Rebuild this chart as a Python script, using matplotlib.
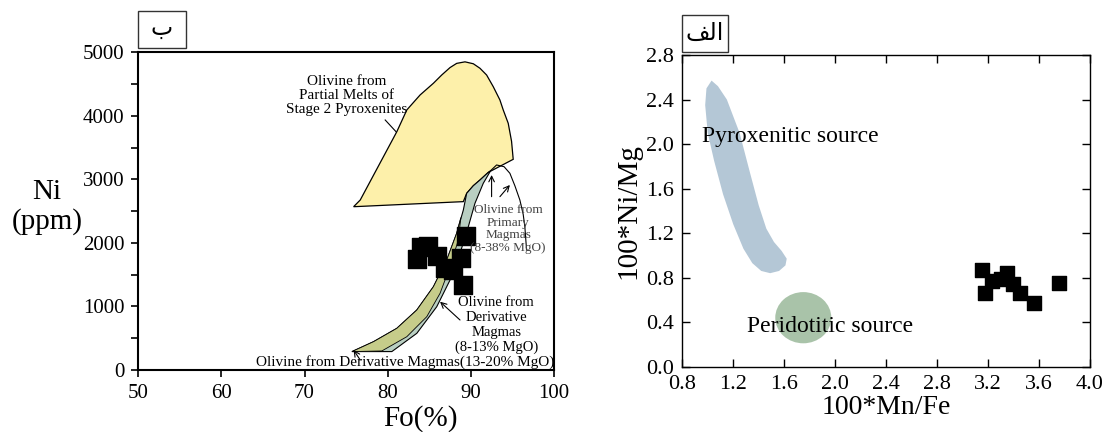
import matplotlib
matplotlib.use("Agg")
import matplotlib.pyplot as plt
from matplotlib.patches import Polygon, Ellipse, Rectangle

plt.rcParams['font.family'] = ['Liberation Serif', 'DejaVu Sans']

# --- left panel (Fo vs Ni) ---
fo = [83.5, 84.0, 84.8, 85.9, 86.9, 87.9, 88.8, 89.1, 89.4]
ni = [1750, 1930, 1950, 1790, 1600, 1580, 1760, 1340, 2110]

# field outlines (Fo, Ni ppm)
pyrox_melt_field = [(75.9, 2570), (89.1, 2650), (89.5, 2780), (90.3, 2900), (91.1, 2990),
                    (92.1, 3110), (95.1, 3316), (94.9, 3600), (94.5, 3883), (93.9, 4093),
                    (93.5, 4250), (92.7, 4459), (91.9, 4643), (91.1, 4749), (90.3, 4820),
                    (89.3, 4850), (88.3, 4826), (87.5, 4760), (86.5, 4643), (85.5, 4513),
                    (83.9, 4329), (82.3, 4093), (81.1, 3751), (76.7, 2676)]
band_left = [(75.7, 290), (78.3, 446), (81.1, 656), (83.5, 944), (85.5, 1311), (87.1, 1731),
             (88.3, 2152), (89.1, 2518), (89.5, 2780), (90.3, 2900), (91.1, 2990),
             (92.1, 3110), (92.4, 3140)]
band_right = [(92.4, 3140), (91.5, 2939), (90.5, 2624), (89.7, 2256), (88.7, 1836),
              (87.5, 1416), (85.9, 996), (83.5, 577), (80.5, 290)]
olive_inner = [(88.8, 2400), (88.5, 2046), (87.5, 1626), (86.3, 1207), (84.7, 839),
               (82.3, 524), (79.3, 300)]
primary_arch = [(92.4, 3140), (93.1, 3227), (94.0, 3200), (94.7, 3096), (95.3, 2900),
                (95.9, 2676), (96.3, 2450), (96.5, 2256), (96.7, 1900)]

# --- right panel (Mn/Fe vs Ni/Mg) ---
mnfe = [3.15, 3.18, 3.23, 3.30, 3.35, 3.40, 3.45, 3.56, 3.76]
nimg = [0.87, 0.66, 0.77, 0.79, 0.84, 0.74, 0.66, 0.57, 0.75]

pyroxenitic_field = [(1.03, 2.57), (1.08, 2.52), (1.15, 2.40), (1.25, 2.10), (1.33, 1.75),
                     (1.40, 1.45), (1.46, 1.24), (1.52, 1.12), (1.58, 1.04), (1.62, 0.97),
                     (1.61, 0.91), (1.56, 0.86), (1.49, 0.84), (1.42, 0.86), (1.35, 0.93),
                     (1.28, 1.06), (1.20, 1.28), (1.12, 1.55), (1.05, 1.85), (1.00, 2.10),
                     (0.98, 2.35), (0.99, 2.50)]
peridotitic_center = (1.75, 0.44)
peridotitic_size = (0.44, 0.46)

fig = plt.figure(figsize=(11.09, 4.32), dpi=100)

# ---------------- left panel ----------------
ax1 = fig.add_axes([0.1247, 0.1435, 0.3748, 0.7354])
ax1.set_xlim(50, 100)
ax1.set_ylim(0, 5000)

ax1.add_patch(Polygon(pyrox_melt_field, closed=True, fc='#fdf0aa', ec='black', lw=0.9, zorder=2))
ax1.add_patch(Polygon(band_left + band_right, closed=True, fc='#b9cfc2', ec='black', lw=0.8, zorder=2))
ax1.add_patch(Polygon(band_left[:7] + olive_inner, closed=True, fc='#c6cc8a', ec='black', lw=0.6, zorder=2))
ax1.plot([p[0] for p in primary_arch], [p[1] for p in primary_arch], color='black', lw=0.8, zorder=2)

ax1.scatter(fo, ni, marker='s', s=150, c='black', zorder=4)

arrow = dict(arrowstyle='->', lw=0.8, color='black', shrinkA=0, shrinkB=0)
ax1.annotate('', xy=(92.5, 3069), xytext=(92.5, 2728), arrowprops=arrow, zorder=3)
ax1.annotate('', xy=(94.7, 2912), xytext=(93.5, 2728), arrowprops=arrow, zorder=3)
ax1.annotate('', xy=(86.3, 1075), xytext=(88.7, 787), arrowprops=arrow, zorder=3)
ax1.annotate('', xy=(75.9, 315), xytext=(76.7, 157), arrowprops=arrow, zorder=3)
ax1.plot([81.0, 79.7], [3751, 3935], color='black', lw=0.8, zorder=3)

ax1.text(75.1, 4313, "Olivine from\nPartial Melts of\nStage 2 Pyroxenites", fontsize=11,
         ha='center', va='center', linespacing=1.1, zorder=5)
ax1.text(94.5, 2219, "Olivine from\nPrimary\nMagmas\n(8-38% MgO)", fontsize=9.5, color='#444444',
         ha='center', va='center', linespacing=1.1, zorder=5)
ax1.text(93.05, 708, "Olivine from\nDerivative\nMagmas\n(8-13% MgO)", fontsize=10.5,
         ha='center', va='center', linespacing=1.2, zorder=5)
ax1.text(82.1, 126, "Olivine from Derivative Magmas(13-20% MgO)", fontsize=11,
         ha='center', va='center', zorder=5)

ax1.set_xticks([50, 60, 70, 80, 90, 100])
ax1.set_yticks([0, 1000, 2000, 3000, 4000, 5000])
ax1.set_yticks([500, 1500, 2500, 3500, 4500], minor=True)
ax1.tick_params(axis='both', which='both', direction='out', length=5, width=1.2,
                labelsize=15, top=False, right=False, pad=5)
for s in ax1.spines.values():
    s.set_linewidth(1.5)
fig.text(420 / 1109, 1 - 426 / 432, "Fo(%)", fontsize=21, ha='center', va='baseline')
fig.text(47 / 1109, 1 - 207 / 432, "Ni\n(ppm)", fontsize=21, ha='center', va='center',
         linespacing=1.15)

fig.patches.append(Rectangle((138 / 1109, 1 - 48 / 432), 48 / 1109, 37 / 432,
                             transform=fig.transFigure, fill=False, ec='#333333', lw=1))
fig.text(162 / 1109, 1 - 29 / 432, "ب", fontsize=17, ha='center', va='center')

# ---------------- right panel ----------------
ax2 = fig.add_axes([0.6152, 0.1512, 0.3676, 0.7215])
ax2.set_xlim(0.8, 4.0)
ax2.set_ylim(0.0, 2.8)

ax2.add_patch(Polygon(pyroxenitic_field, closed=True, fc='#b4c7d6', ec='none', zorder=2))
ax2.add_patch(Ellipse(peridotitic_center, peridotitic_size[0], peridotitic_size[1],
                      fc='#a9c3a9', ec='none', zorder=2))
ax2.text(1.645, 2.064, "Pyroxenitic source", fontsize=17, ha='center', va='center', zorder=3)
ax2.text(1.959, 0.36, "Peridotitic source", fontsize=17, ha='center', va='center', zorder=3)

ax2.scatter(mnfe, nimg, marker='s', s=110, c='black', zorder=4)

ticks_x = [0.8, 1.2, 1.6, 2.0, 2.4, 2.8, 3.2, 3.6, 4.0]
ticks_y = [0.0, 0.4, 0.8, 1.2, 1.6, 2.0, 2.4, 2.8]
ax2.set_xticks(ticks_x)
ax2.set_xticklabels([f"{v:.1f}" for v in ticks_x])
ax2.set_yticks(ticks_y)
ax2.set_yticklabels([f"{v:.1f}" for v in ticks_y])
ax2.tick_params(axis='both', direction='in', length=6, width=1, labelsize=16,
                top=True, right=True, pad=6)
for s in ax2.spines.values():
    s.set_linewidth(1.0)
ax2.set_xlabel("100*Mn/Fe", fontsize=20, labelpad=1)
ax2.set_ylabel("100*Ni/Mg", fontsize=21, labelpad=3)

fig.patches.append(Rectangle((682 / 1109, 1 - 52 / 432), 46 / 1109, 37 / 432,
                             transform=fig.transFigure, fill=False, ec='#333333', lw=1))
fig.text(705 / 1109, 1 - 34 / 432, "\ufed2\ufedf\ufe8d", fontsize=17, ha='center', va='center')

fig.savefig("out.png", dpi=100)
